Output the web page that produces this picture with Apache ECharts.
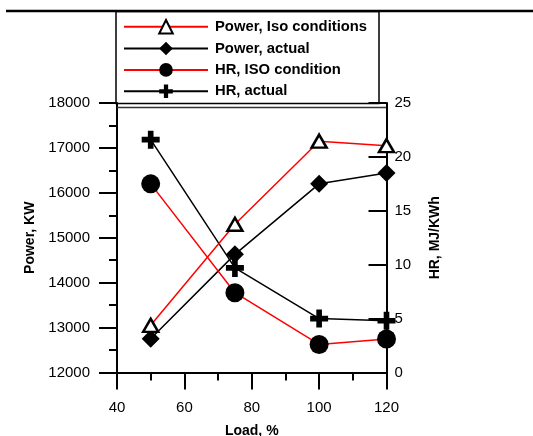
<!DOCTYPE html>
<html>
<head>
<meta charset="utf-8">
<script src="https://cdn.jsdelivr.net/npm/echarts@6/dist/echarts.min.js"></script>
<style>html,body{margin:0;padding:0;background:#fff}#c{width:533px;height:436px}</style>
</head>
<body>
<div id="c"></div>
<script>
var loads = [50, 75, 100, 120];
var powerIso = [13050, 15300, 17150, 17050];
var powerActual = [12750, 14630, 16200, 16440];
var hrIso = [17.5, 7.4, 2.6, 3.1];
var hrActual = [21.6, 9.7, 5.0, 4.8];
var xTicks = {min: 40, max: 120, interval: 20};
var yLeftTicks = {min: 12000, max: 18000, interval: 1000};
var yRightTicks = {min: 0, max: 25, interval: 5};
var seriesNames = ['Power, Iso conditions', 'Power, actual', 'HR, ISO condition', 'HR, actual'];

function pairs(ys) { return loads.map(function (x, i) { return [x, ys[i]]; }); }
function plain(v) { return String(v); }

var FONT = 'Liberation Sans, Arial, sans-serif';
var plus = 'path://M5.5,0H10.5V5.5H16V10.5H10.5V16H5.5V10.5H0V5.5H5.5Z';

var chart = echarts.init(document.getElementById('c'), null, {renderer: 'canvas'});
var axisCommon = {
  axisLine: {show: true, lineStyle: {color: '#000', width: 2}},
  splitLine: {show: false},
  nameTextStyle: {color: '#000', fontFamily: FONT, fontSize: 14, fontWeight: 'bold'}
};
chart.setOption({
  animation: false,
  backgroundColor: '#fff',
  grid: {left: 117, top: 103, right: 146.5, bottom: 63.5, outerBoundsMode: 'none', containLabel: false},
  legend: {
    orient: 'vertical', left: 123, top: 19, padding: 0,
    itemWidth: 84, itemHeight: 17, itemGap: 6.4,
    data: seriesNames,
    textStyle: {color: '#000', fontFamily: FONT, fontSize: 14.8, fontWeight: 'bold', padding: [0, 0, 0, 2]}
  },
  xAxis: Object.assign({}, axisCommon, {
    type: 'value', min: xTicks.min, max: xTicks.max, interval: xTicks.interval,
    name: 'Load, %', nameLocation: 'middle', nameGap: 52,
    axisTick: {show: true, length: 17, inside: false, lineStyle: {color: '#000', width: 2}},
    minorTick: {show: true, splitNumber: 2, length: 8, lineStyle: {color: '#000', width: 2}},
    axisLabel: {color: '#000', fontFamily: FONT, fontSize: 15, margin: 28, formatter: plain}
  }),
  yAxis: [
    Object.assign({}, axisCommon, {
      type: 'value', position: 'left', min: yLeftTicks.min, max: yLeftTicks.max, interval: yLeftTicks.interval,
      name: 'Power, KW', nameLocation: 'middle', nameGap: 79, nameRotate: 90,
      axisTick: {show: true, length: 18, inside: false, lineStyle: {color: '#000', width: 2}},
      minorTick: {show: true, splitNumber: 2, length: 8, lineStyle: {color: '#000', width: 2}},
      axisLabel: {color: '#000', fontFamily: FONT, fontSize: 15, margin: 27, formatter: plain}
    }),
    Object.assign({}, axisCommon, {
      type: 'value', position: 'right', min: yRightTicks.min, max: yRightTicks.max, interval: yRightTicks.interval,
      name: 'HR, MJ/KWh', nameLocation: 'middle', nameGap: 42, nameRotate: 90,
      axisTick: {show: true, length: 18, inside: true, lineStyle: {color: '#000', width: 2}},
      minorTick: {show: false},
      axisLabel: {color: '#000', fontFamily: FONT, fontSize: 15, margin: 8, formatter: plain}
    })
  ],
  series: [
    {name: seriesNames[0], type: 'line', yAxisIndex: 0, data: pairs(powerIso),
     symbol: 'triangle', symbolSize: [15, 13],
     lineStyle: {color: '#ff0000', width: 1.5},
     itemStyle: {color: '#fff', borderColor: '#000', borderWidth: 2.5}, z: 3},
    {name: seriesNames[1], type: 'line', yAxisIndex: 0, data: pairs(powerActual),
     symbol: 'diamond', symbolSize: 18,
     lineStyle: {color: '#000', width: 1.5},
     itemStyle: {color: '#000', borderColor: '#000', borderWidth: 0}, z: 2},
    {name: seriesNames[2], type: 'line', yAxisIndex: 1, data: pairs(hrIso),
     symbol: 'circle', symbolSize: 19,
     lineStyle: {color: '#ff0000', width: 1.5},
     itemStyle: {color: '#000', borderColor: '#000', borderWidth: 0}, z: 2},
    {name: seriesNames[3], type: 'line', yAxisIndex: 1, data: pairs(hrActual),
     symbol: plus, symbolSize: 18,
     lineStyle: {color: '#000', width: 1.5},
     itemStyle: {color: '#000', borderColor: '#000', borderWidth: 0}, z: 2}
  ],
  graphic: [
    {type: 'line', shape: {x1: 6, y1: 11, x2: 533, y2: 11}, style: {stroke: '#000', lineWidth: 2.5}, z: 10},
    {type: 'rect', shape: {x: 116, y: 11.5, width: 263, height: 92}, style: {fill: 'rgba(0,0,0,0)', stroke: '#000', lineWidth: 1.5}, z: 10},
    {type: 'line', shape: {x1: 117, y1: 107.5, x2: 386, y2: 107.5}, style: {stroke: '#333', lineWidth: 1.5}, z: 10}
  ]
});
</script>
</body>
</html>
